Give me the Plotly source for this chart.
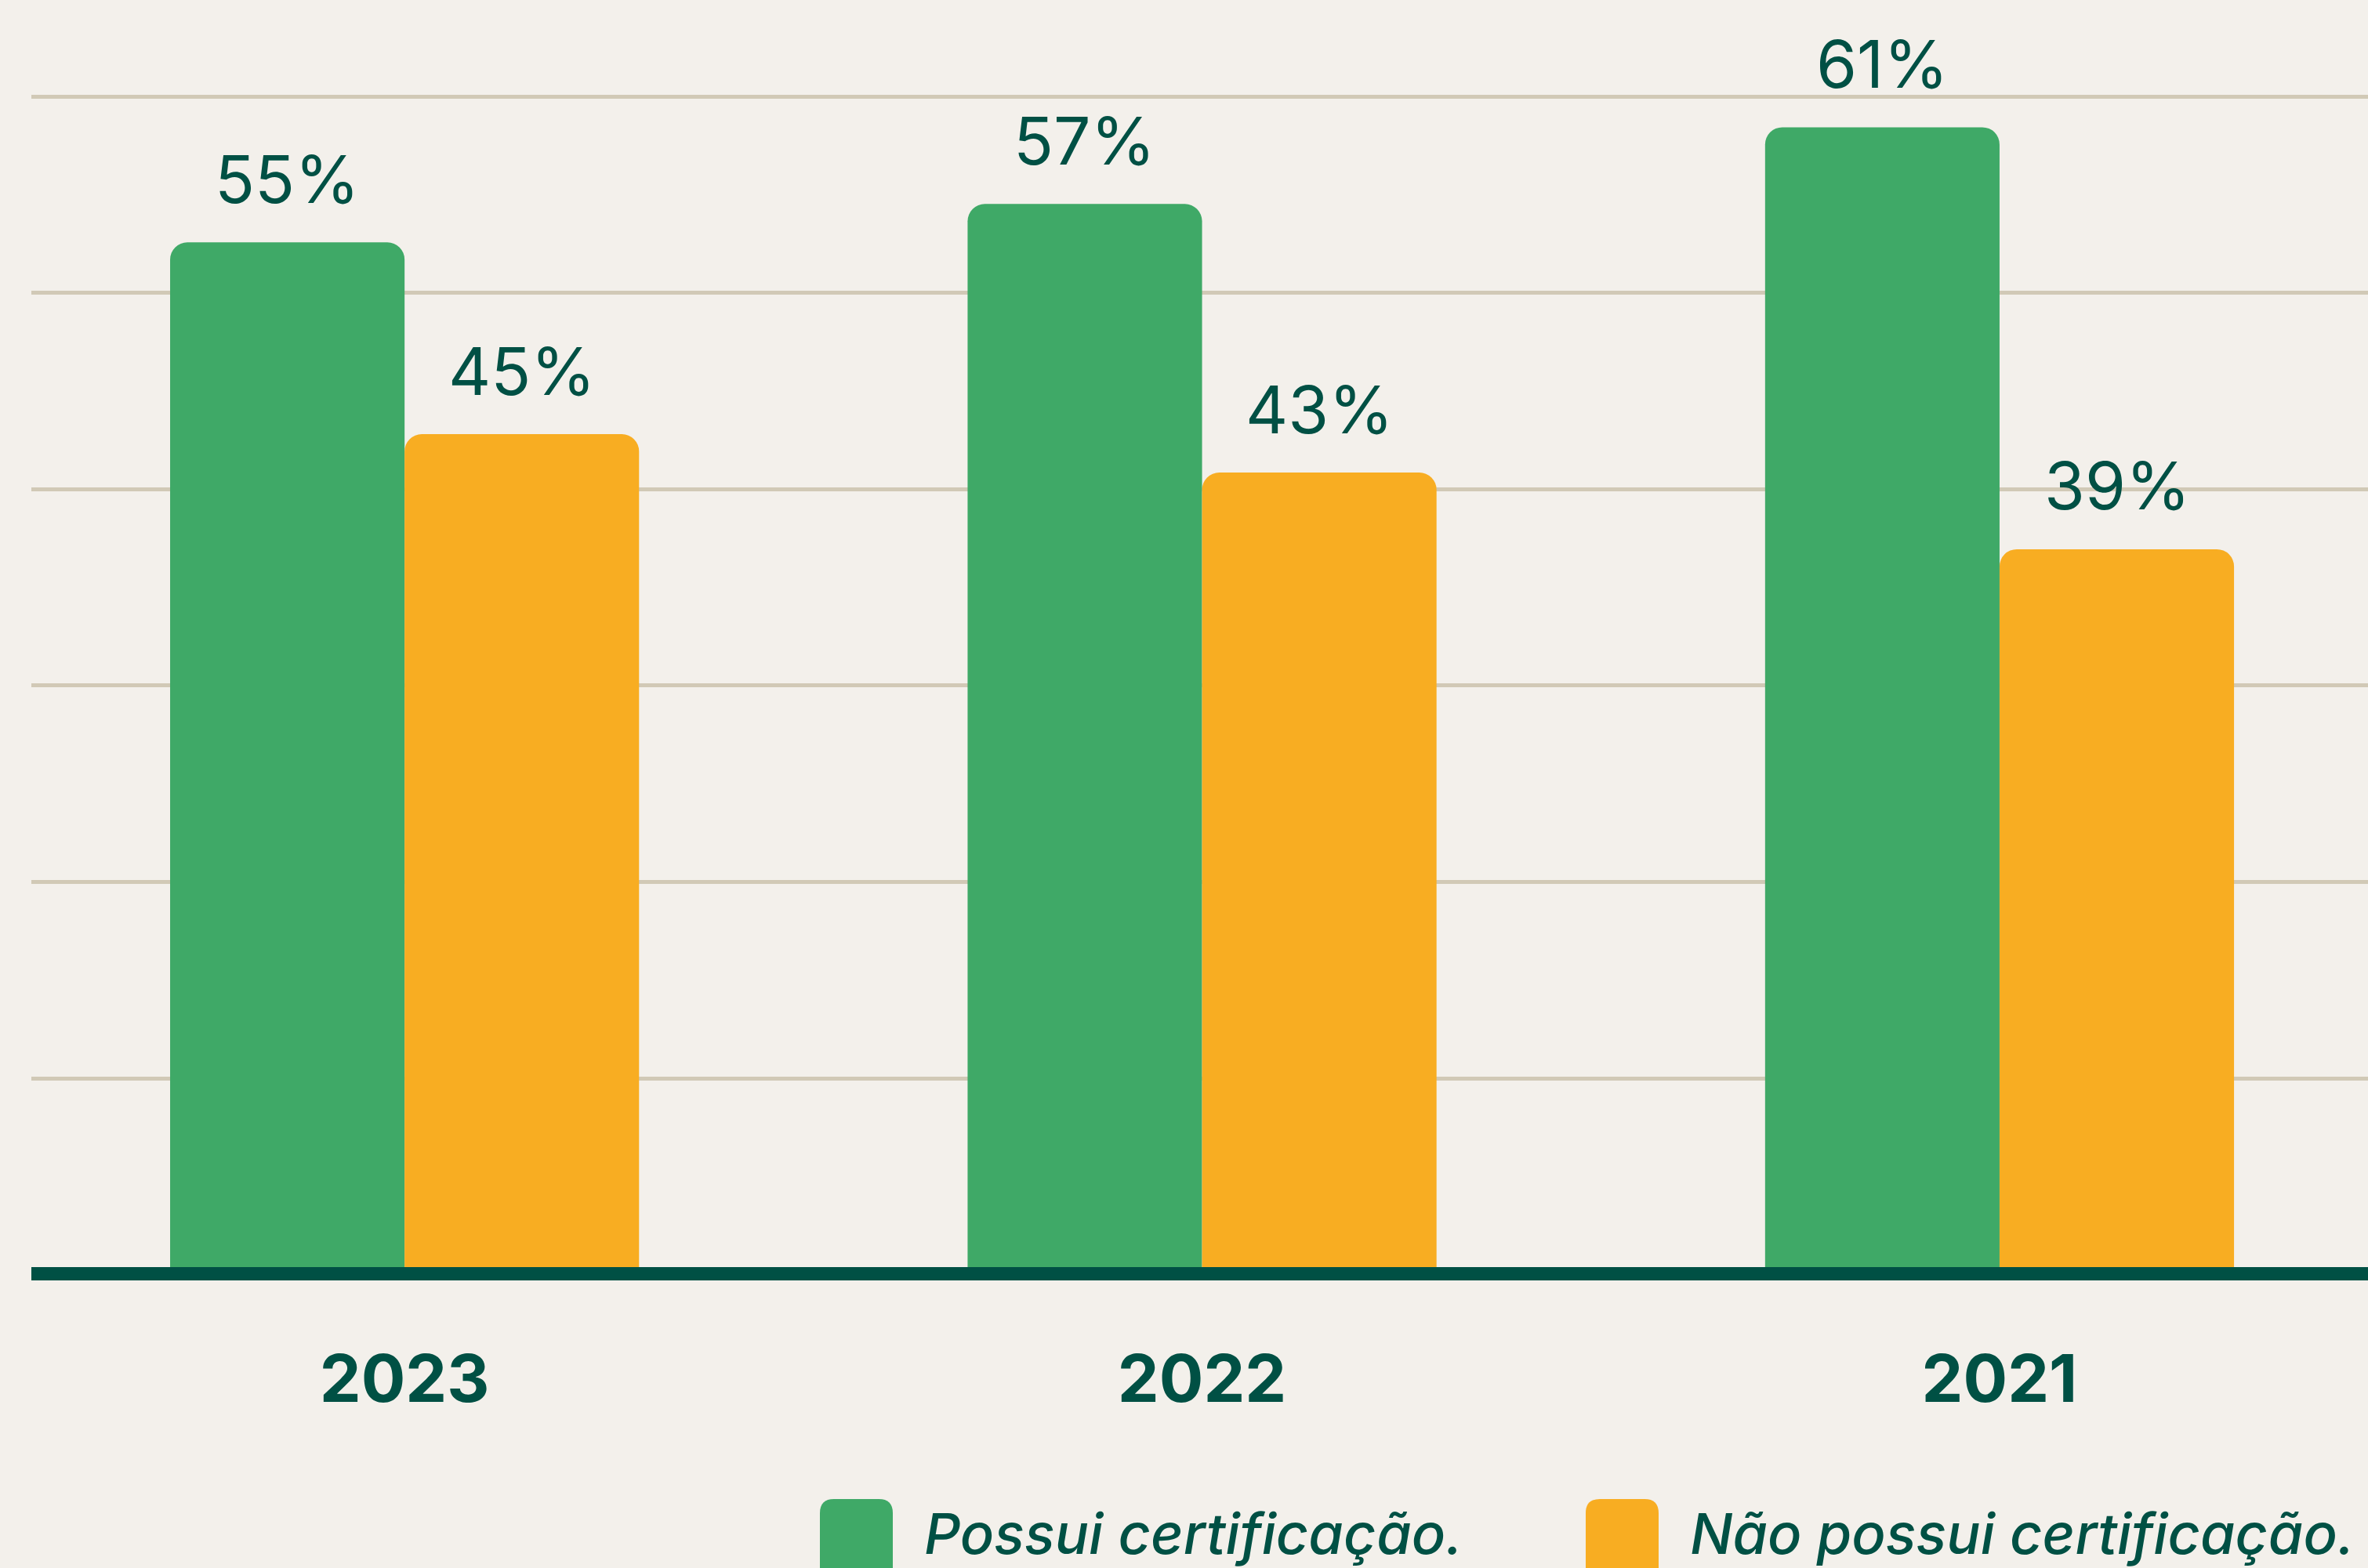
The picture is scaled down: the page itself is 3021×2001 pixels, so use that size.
import plotly.graph_objects as go

# dados
anos = ["2023", "2022", "2021"]
possui = [55, 57, 61]
nao_possui = [45, 43, 39]
series_nomes = ["Possui certificação.", "Não possui certificação."]

verde = "#3FA967"
laranja = "#F8AD22"
escuro = "#005044"
fundo = "#F3F0EB"
grade = "#D1C9B6"

W, H = 3021, 2001
L, R, T, B = 40, 0, 40, 384
PW, PH = W - L - R, H - T - B

x_range = [-0.468, 2.462]
y_range = [1.575, 66.0]
bargap = 0.412


def fx(px):
    return (px - L) / PW


def fy(py):
    return (T + PH - py) / PH


def rrect(x0, y0, x1, y1, r):
    pts = [("M", x0 + r, y0), ("L", x1 - r, y0), ("Q", x1, y0, x1, y0 + r),
           ("L", x1, y1 - r), ("Q", x1, y1, x1 - r, y1), ("L", x0 + r, y1),
           ("Q", x0, y1, x0, y1 - r), ("L", x0, y0 + r), ("Q", x0, y0, x0 + r, y0)]
    out = []
    for p in pts:
        cmd, coords = p[0], p[1:]
        s = " ".join(f"{fx(coords[i]):.5f},{fy(coords[i + 1]):.5f}" for i in range(0, len(coords), 2))
        out.append(f"{cmd} {s}")
    return " ".join(out) + " Z"


fig = go.Figure()
fig.add_trace(go.Bar(x=anos, y=possui, name=series_nomes[0], marker_color=verde,
                     marker_line_width=0, showlegend=False))
fig.add_trace(go.Bar(x=anos, y=nao_possui, name=series_nomes[1], marker_color=laranja,
                     marker_line_width=0, showlegend=False))

# rótulos de valor acima das barras (x pelo índice da categoria)
unit_px = PW / (x_range[1] - x_range[0])
desloc = (1 - bargap) / 4 * unit_px
for serie, sinal in ((possui, -1), (nao_possui, 1)):
    for i, v in enumerate(serie):
        fig.add_annotation(x=i, y=v, xref="x", yref="y", text=f"{v}%", showarrow=False,
                           xshift=sinal * desloc, yshift=81, yanchor="middle",
                           font=dict(family="Inter", size=84, color=escuro))

# legenda manual
legenda = [(1046, 1177, verde, series_nomes[0]), (2023, 2154, laranja, series_nomes[1])]
for sx, tx, cor, nome in legenda:
    fig.add_shape(type="path", xref="paper", yref="paper", path=rrect(sx, 1913, sx + 93, 2030, 18),
                  fillcolor=cor, line_width=0, layer="above")
    fig.add_annotation(xref="paper", yref="paper", x=fx(tx), y=fy(1956), xanchor="left",
                       yanchor="middle", text=nome, showarrow=False,
                       font=dict(family="Inter", size=72, color=escuro, style="italic", weight=500))

fig.update_layout(
    width=W, height=H,
    margin=dict(l=L, r=R, t=T, b=B),
    paper_bgcolor=fundo, plot_bgcolor=fundo,
    barmode="group", bargap=bargap, bargroupgap=0, barcornerradius=22,
    showlegend=False,
    xaxis=dict(type="category", range=x_range, showgrid=False, zeroline=False,
               showline=True, linewidth=17, linecolor=escuro, ticks="",
               ticklabelstandoff=54,
               tickfont=dict(family="Inter", size=84, color=escuro, weight="bold")),
    yaxis=dict(range=y_range, showticklabels=False, zeroline=False, showline=False,
               showgrid=True, gridcolor=grade, gridwidth=5, tick0=11.42, dtick=10.236),
)

fig.write_html("out.html", config={"displayModeBar": False},
               post_script="document.body.style.margin='0px';")
